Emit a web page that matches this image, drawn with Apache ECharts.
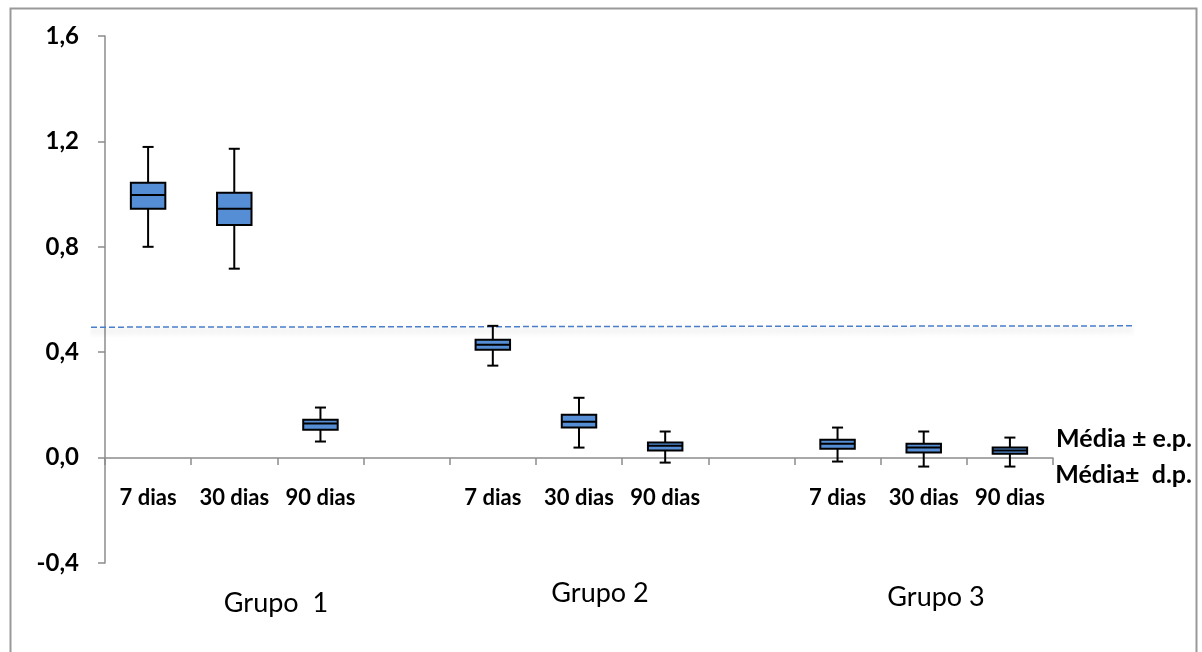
<!DOCTYPE html>
<html>
<head>
<meta charset="utf-8">
<script src="https://cdn.jsdelivr.net/npm/echarts@6/dist/echarts.min.js"></script>
<style>
html,body{margin:0;padding:0;background:#fff;}
#c{width:1202px;height:652px;}
</style>
</head>
<body>
<div id="c"></div>
<script>
// Categories (blank slots separate the groups)
const categories = ['7 dias','30 dias','90 dias','','7 dias','30 dias','90 dias','','7 dias','30 dias','90 dias'];
const categoryIndex = [0,1,2,4,5,6,8,9,10];
// [min (média - d.p.), Q1 (média - e.p.), média, Q3 (média + e.p.), max (média + d.p.)]
const lowDP  = [0.800, 0.717, 0.061, 0.349, 0.038, -0.019, -0.015, -0.034, -0.034];
const lowEP  = [0.944, 0.883, 0.106, 0.409, 0.114, 0.027, 0.034, 0.019, 0.015];
const media  = [0.997, 0.944, 0.129, 0.428, 0.136, 0.045, 0.053, 0.038, 0.027];
const highEP = [1.043, 1.005, 0.144, 0.447, 0.163, 0.057, 0.068, 0.053, 0.038];
const highDP = [1.179, 1.172, 0.190, 0.500, 0.227, 0.099, 0.114, 0.099, 0.076];
// Reference (dashed) line value
const refLine = [[0, 0.495], [1, 0.500]];
const groupLabels = ['Grupo  1', 'Grupo 2', 'Grupo 3'];
const legendLabels = ['Média ± e.p.', 'Média±  d.p.'];
const yTicks = {min: -0.4, max: 1.6, interval: 0.4};

const boxData = categoryIndex.map((c, i) => [c, lowDP[i], lowEP[i], media[i], highEP[i], highDP[i]]);

const chart = echarts.init(document.getElementById('c'), null, {renderer: 'canvas'});
const axisGray = '#8c8c8c';
const FONT = 'Lato, "Open Sans", sans-serif';

chart.setOption({
  animation: false,
  backgroundColor: '#fff',
  grid: [
    {left: 105, right: 149, top: 36, bottom: 89, containLabel: false},
    {left: 91, right: 69, top: 36, bottom: 89, containLabel: false},
    // upper part of the plot (down to value 0) used to draw the category axis at y = 0
    {left: 105, right: 149, top: 36, bottom: 194, containLabel: false}
  ],
  xAxis: [
    {type: 'category', gridIndex: 0, data: categories, show: false},
    {type: 'value', gridIndex: 1, min: 0, max: 1, show: false},
    {
      type: 'category', gridIndex: 2, data: categories, boundaryGap: true, position: 'bottom',
      axisLine: {onZero: false, lineStyle: {color: axisGray, width: 1.5}},
      axisTick: {show: true, length: 7, alignWithLabel: false, interval: 0, lineStyle: {color: axisGray, width: 1.5}},
      axisLabel: {interval: 0, margin: 29, color: '#000', fontFamily: FONT, fontWeight: 'bold', fontSize: 22},
      splitLine: {show: false}
    }
  ],
  yAxis: [
    {
      type: 'value', gridIndex: 0, min: yTicks.min, max: yTicks.max, interval: yTicks.interval,
      axisLine: {show: true, onZero: false, lineStyle: {color: axisGray, width: 1.5}},
      axisTick: {show: true, length: 7, lineStyle: {color: axisGray, width: 1.5}},
      axisLabel: {margin: 26, color: '#000', fontFamily: FONT, fontWeight: 'bold', fontSize: 24,
        formatter: v => v.toFixed(1).replace('.', ',')},
      splitLine: {show: false}
    },
    {type: 'value', gridIndex: 1, min: yTicks.min, max: yTicks.max, show: false},
    {type: 'value', gridIndex: 2, min: 0, max: 1.6, show: false}
  ],
  series: [
    {
      type: 'line', xAxisIndex: 1, yAxisIndex: 1, data: refLine, symbol: 'none', silent: true,
      lineStyle: {color: '#4a7ecb', width: 1.5, type: [6, 3],
        shadowColor: 'rgba(0,0,0,0.3)', shadowBlur: 6, shadowOffsetY: 4}
    },
    {
      type: 'custom', xAxisIndex: 0, yAxisIndex: 0, data: boxData, z: 5,
      encode: {x: 0, y: [1, 2, 3, 4, 5]},
      renderItem: function (params, api) {
        const x = api.value(0);
        const lo = api.coord([x, api.value(1)]);
        const q1 = api.coord([x, api.value(2)]);
        const md = api.coord([x, api.value(3)]);
        const q3 = api.coord([x, api.value(4)]);
        const hi = api.coord([x, api.value(5)]);
        const bw = api.size([1, 0])[0] * 0.4;
        const cw = bw * 0.32;
        const cx = lo[0];
        const ls = {stroke: '#000', lineWidth: 2};
        return {
          type: 'group',
          children: [
            {type: 'line', shape: {x1: cx, y1: hi[1], x2: cx, y2: q3[1]}, style: ls},
            {type: 'line', shape: {x1: cx, y1: q1[1], x2: cx, y2: lo[1]}, style: ls},
            {type: 'line', shape: {x1: cx - cw / 2, y1: hi[1], x2: cx + cw / 2, y2: hi[1]}, style: ls},
            {type: 'line', shape: {x1: cx - cw / 2, y1: lo[1], x2: cx + cw / 2, y2: lo[1]}, style: ls},
            {type: 'rect', shape: {x: cx - bw / 2, y: q3[1], width: bw, height: q1[1] - q3[1]},
              style: {fill: '#558ed5', stroke: '#000', lineWidth: 2}},
            {type: 'line', shape: {x1: cx - bw / 2, y1: md[1], x2: cx + bw / 2, y2: md[1]}, style: ls}
          ]
        };
      }
    }
  ],
  graphic: [
    {type: 'rect', left: 8, top: 6, shape: {width: 1186, height: 700}, z: 100, silent: true,
      style: {fill: 'none', stroke: '#999', lineWidth: 2}},
    {type: 'text', x: 276, y: 603, style: {text: groupLabels[0], font: '27px ' + FONT, fill: '#000', textAlign: 'center', textVerticalAlign: 'middle'}},
    {type: 'text', x: 600, y: 593, style: {text: groupLabels[1], font: '27px ' + FONT, fill: '#000', textAlign: 'center', textVerticalAlign: 'middle'}},
    {type: 'text', x: 936, y: 597, style: {text: groupLabels[2], font: '27px ' + FONT, fill: '#000', textAlign: 'center', textVerticalAlign: 'middle'}},
    {type: 'text', x: 1192, y: 439, style: {text: legendLabels[0], font: 'bold 25px ' + FONT, fill: '#000', textAlign: 'right', textVerticalAlign: 'middle'}},
    {type: 'text', x: 1192, y: 475, style: {text: legendLabels[1], font: 'bold 25px ' + FONT, fill: '#000', textAlign: 'right', textVerticalAlign: 'middle'}}
  ]
});
</script>
</body>
</html>
